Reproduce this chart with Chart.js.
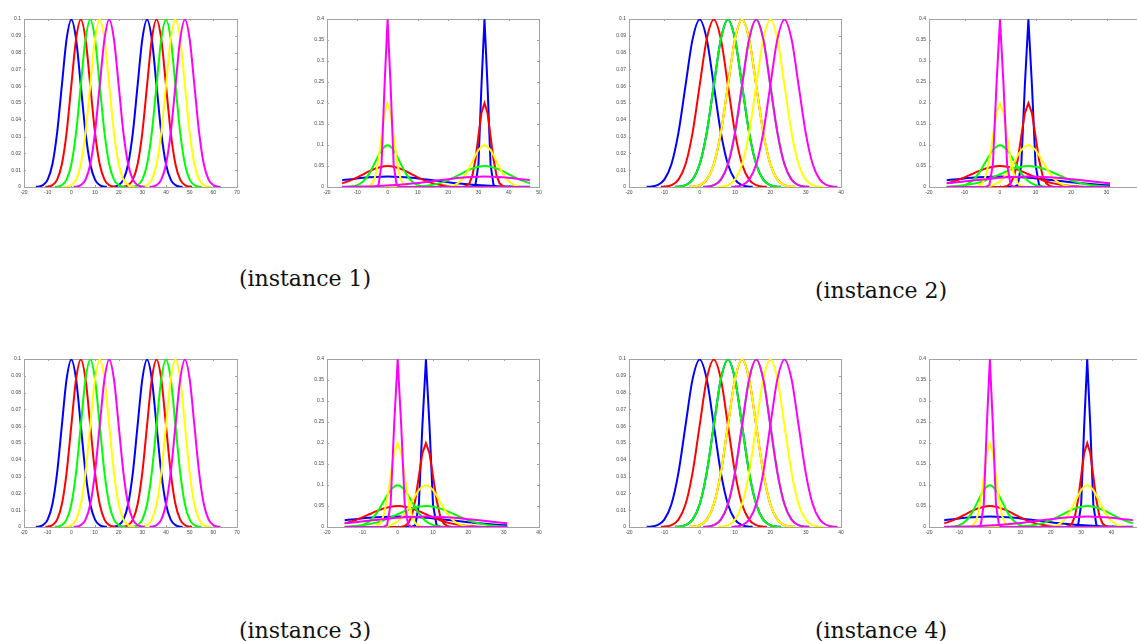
<!DOCTYPE html>
<html>
<head>
<meta charset="utf-8">
<script src="https://cdn.jsdelivr.net/npm/chart.js"></script>
<style>
html, body { margin: 0; padding: 0; width: 1137px; height: 641px; overflow: hidden; background: #fff; }
canvas { position: absolute; }
.legende { position: absolute; width: 200px; text-align: center; font-family: "DejaVu Serif", serif; font-size: 22px; line-height: 24px; color: #111; }
</style>
</head>
<body>
<canvas id="c1" width="253" height="190" style="left:-6px; top:11px"></canvas>
<canvas id="c2" width="252" height="190" style="left:297px; top:11px"></canvas>
<canvas id="c3" width="252" height="190" style="left:599px; top:11px"></canvas>
<canvas id="c4" width="253" height="190" style="left:899px; top:11px"></canvas>
<canvas id="c5" width="253" height="190" style="left:-6px; top:351px"></canvas>
<canvas id="c6" width="252" height="190" style="left:297px; top:351px"></canvas>
<canvas id="c7" width="252" height="190" style="left:599px; top:351px"></canvas>
<canvas id="c8" width="253" height="190" style="left:899px; top:351px"></canvas>

<div class="legende" style="left:205px; top:267px">(instance 1)</div>
<div class="legende" style="left:781px; top:279px">(instance 2)</div>
<div class="legende" style="left:205px; top:619px">(instance 3)</div>
<div class="legende" style="left:781px; top:619px">(instance 4)</div>

<script>
const couleurs = ['#0000ff', '#ff0000', '#00ff00', '#ffff00', '#ff00ff'];

const ticksX70 = [-20, -10, 0, 10, 20, 30, 40, 50, 60, 70];
const ticksX50 = [-20, -10, 0, 10, 20, 30, 40, 50];
const ticksX40 = [-20, -10, 0, 10, 20, 30, 40];
const ticksY01 = [0, 0.01, 0.02, 0.03, 0.04, 0.05, 0.06, 0.07, 0.08, 0.09, 0.1];
const ticksY04 = [0, 0.05, 0.1, 0.15, 0.2, 0.25, 0.3, 0.35, 0.4];

// panneaux de gauche : pics de meme forme (sigma 4), chaque courbe sur +/- 15
const centresA1 = [0, 4, 8, 12, 16];
const centresA2 = [32, 36, 40, 44, 48];
const centresC1 = [0, 4, 8, 12, 16];
const centresC2 = [8, 12, 16, 20, 24];
const fenetre = 15;

// panneaux de droite : deux centres, un ecart-type par couleur
const sigmasG1 = [16, 8, 4, 2, 1];
const sigmasG2 = [1, 2, 8, 4, 16];
const domaineB = [-15, 47];
const domaineD = [-15, 31];

// hauteurs, selon l'ecart au centre
const decalages1 = [-47, -31, -23, -15, -4, -3, -2, -1, 0, 1, 2, 3, 4, 15, 23, 31, 47];
const hauteurs1 = [0, 0, 0, 0, 0.0001, 0.0044, 0.054, 0.242, 0.399, 0.242, 0.054, 0.0044, 0.0001, 0, 0, 0, 0];

const decalages2 = [-47, -31, -23, -15, -8, -7, -6, -5, -4, -3, -2, -1, 0, 1, 2, 3, 4, 5, 6, 7, 8, 15, 23, 31, 47];
const hauteurs2 = [0, 0, 0, 0, 0.0001, 0.0004, 0.0022, 0.0088, 0.027, 0.0648, 0.121, 0.176, 0.1995, 0.176, 0.121, 0.0648, 0.027, 0.0088, 0.0022, 0.0004, 0.0001, 0, 0, 0, 0];

const decalages4 = [-47, -31, -23, -15, -14, -12, -10, -8, -6, -4, -2, 0, 2, 4, 6, 8, 10, 12, 14, 15, 23, 31, 47];
const hauteurs4 = [0, 0, 0, 0.0001, 0.0002, 0.0011, 0.0044, 0.0135, 0.0324, 0.0605, 0.088, 0.0997, 0.088, 0.0605, 0.0324, 0.0135, 0.0044, 0.0011, 0.0002, 0.0001, 0, 0, 0];

const decalages8 = [-47, -31, -23, -20, -15, -12, -10, -8, -6, -4, -2, 0, 2, 4, 6, 8, 10, 12, 15, 20, 23, 31, 47];
const hauteurs8 = [0, 0.00003, 0.0008, 0.0022, 0.0086, 0.0162, 0.0229, 0.0303, 0.0378, 0.044, 0.0484, 0.0499, 0.0484, 0.044, 0.0378, 0.0303, 0.0229, 0.0162, 0.0086, 0.0022, 0.0008, 0.00003, 0];

const decalages16 = [-47, -40, -36, -31, -28, -23, -20, -15, -12, -8, -4, 0, 4, 8, 12, 15, 20, 23, 28, 31, 36, 40, 47];
const hauteurs16 = [0.0003, 0.0011, 0.002, 0.0039, 0.0054, 0.0088, 0.0114, 0.0162, 0.0187, 0.022, 0.0241, 0.0249, 0.0241, 0.022, 0.0187, 0.0162, 0.0114, 0.0088, 0.0054, 0.0039, 0.002, 0.0011, 0.0003];

const profils = {
  1: [decalages1, hauteurs1],
  2: [decalages2, hauteurs2],
  4: [decalages4, hauteurs4],
  8: [decalages8, hauteurs8],
  16: [decalages16, hauteurs16]
};

function courbe(centre, sigma, min, max, couleur) {
  const [dec, h] = profils[sigma];
  const points = dec.map((d, i) => ({ x: centre + d, y: h[i] }))
    .filter(p => p.x >= min && p.x <= max);
  return {
    data: points,
    borderColor: couleur,
    borderWidth: 2,
    pointRadius: 0,
    fill: false,
    tension: 0,
    cubicInterpolationMode: sigma >= 4 ? 'monotone' : 'default'
  };
}

// chart.js dessine le premier dataset au-dessus : on inverse pour garder l'ordre matlab
function panneauGauche(centres1, centres2) {
  const ds = [];
  for (let k = 0; k < 5; k++) {
    ds.push(courbe(centres1[k], 4, centres1[k] - fenetre, centres1[k] + fenetre, couleurs[k]));
    ds.push(courbe(centres2[k], 4, centres2[k] - fenetre, centres2[k] + fenetre, couleurs[k]));
  }
  return ds.reverse();
}

function panneauDroit(c1, c2, domaine) {
  const ds = [];
  for (let k = 0; k < 5; k++) {
    ds.push(courbe(c1, sigmasG1[k], domaine[0], domaine[1], couleurs[k]));
    ds.push(courbe(c2, sigmasG2[k], domaine[0], domaine[1], couleurs[k]));
  }
  return ds.reverse();
}

// cadre gris avec graduations vers l'interieur, facon matlab
const cadre = {
  id: 'cadre',
  beforeDatasetsDraw(chart) {
    const { ctx, chartArea: a, scales: { x, y } } = chart;
    ctx.save();
    ctx.strokeStyle = '#a3a3a3';
    ctx.lineWidth = 1;
    ctx.strokeRect(a.left + 0.5, a.top + 0.5, a.width, a.height);
    ctx.beginPath();
    x.ticks.forEach(t => {
      const px = Math.round(x.getPixelForValue(t.value)) + 0.5;
      ctx.moveTo(px, a.bottom); ctx.lineTo(px, a.bottom - 2);
      ctx.moveTo(px, a.top); ctx.lineTo(px, a.top + 2);
    });
    y.ticks.forEach(t => {
      const py = Math.round(y.getPixelForValue(t.value)) + 0.5;
      ctx.moveTo(a.left, py); ctx.lineTo(a.left + 2, py);
      ctx.moveTo(a.right, py); ctx.lineTo(a.right - 2, py);
    });
    ctx.stroke();
    ctx.restore();
  }
};

const police = { family: 'Liberation Sans', size: 5 };

function dessiner(id, datasets, ticksX, ticksY) {
  new Chart(document.getElementById(id), {
    type: 'line',
    data: { datasets: datasets },
    options: {
      responsive: false,
      animation: false,
      layout: { padding: { top: 8, right: 10, left: 0, bottom: 0 } },
      plugins: { legend: { display: false }, tooltip: { enabled: false } },
      scales: {
        x: {
          type: 'linear',
          min: ticksX[0],
          max: ticksX[ticksX.length - 1],
          afterBuildTicks: s => { s.ticks = ticksX.map(v => ({ value: v })); },
          afterFit: s => { s.height = 14; },
          grid: { display: false, drawTicks: false },
          border: { display: false },
          ticks: { font: police, color: '#444', padding: 3, maxRotation: 0, autoSkip: false, callback: v => String(v) }
        },
        y: {
          type: 'linear',
          min: ticksY[0],
          max: ticksY[ticksY.length - 1],
          afterBuildTicks: s => { s.ticks = ticksY.map(v => ({ value: v })); },
          afterFit: s => { s.width = 30; },
          grid: { display: false, drawTicks: false },
          border: { display: false },
          ticks: { font: police, color: '#444', padding: 3, autoSkip: false, callback: v => String(v) }
        }
      }
    },
    plugins: [cadre]
  });
}

dessiner('c1', panneauGauche(centresA1, centresA2), ticksX70, ticksY01);
dessiner('c2', panneauDroit(0, 32, domaineB), ticksX50, ticksY04);
dessiner('c3', panneauGauche(centresC1, centresC2), ticksX40, ticksY01);
dessiner('c4', panneauDroit(0, 8, domaineD), ticksX40, ticksY04);
dessiner('c5', panneauGauche(centresA1, centresA2), ticksX70, ticksY01);
dessiner('c6', panneauDroit(0, 8, domaineD), ticksX40, ticksY04);
dessiner('c7', panneauGauche(centresC1, centresC2), ticksX40, ticksY01);
dessiner('c8', panneauDroit(0, 32, domaineB), ticksX50, ticksY04);
</script>
</body>
</html>
